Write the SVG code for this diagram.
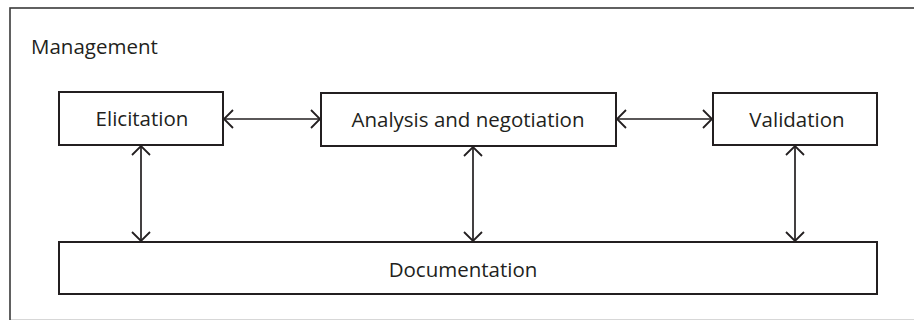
<svg xmlns="http://www.w3.org/2000/svg" width="914" height="320" viewBox="0 0 914 320">
  <style>
    .box { fill: #ffffff; stroke: #231f20; stroke-width: 2; }
    .frame { fill: #ffffff; stroke: #3a3a3a; stroke-width: 1.6; }
    .label { font-family: "Open Sans", "Noto Sans", "DejaVu Sans", sans-serif; font-size: 20.5px; fill: #231f20; }
    .mid { text-anchor: middle; }
    .link { fill: none; stroke: #231f20; stroke-width: 1.7; marker-start: url(#head); marker-end: url(#head); }
  </style>
  <defs>
    <marker id="head" viewBox="-11 -11 13 22" markerWidth="13" markerHeight="22" refX="0" refY="0" markerUnits="userSpaceOnUse" orient="auto-start-reverse">
      <path d="M -9 -9 L 0 0 L -9 9" fill="none" stroke="#231f20" stroke-width="1.8"/>
    </marker>
  </defs>

  <!-- outer management frame (runs past the right and bottom edges) -->
  <g id="management">
    <rect class="frame" x="10" y="8" width="920" height="312.6"/>
    <text class="label" x="31" y="54">Management</text>
  </g>

  <!-- connectors -->
  <g id="connectors">
    <line class="link" x1="224" y1="119" x2="320" y2="119"/>
    <line class="link" x1="617" y1="119" x2="712" y2="119"/>
    <line class="link" x1="141" y1="146" x2="141" y2="241"/>
    <line class="link" x1="473" y1="147" x2="473" y2="241"/>
    <line class="link" x1="795" y1="146" x2="795" y2="241"/>
  </g>

  <g id="elicitation">
    <rect class="box" x="59" y="92" width="164" height="53"/>
    <text class="label mid" x="142" y="126">Elicitation</text>
  </g>

  <g id="analysis">
    <rect class="box" x="321" y="93" width="295" height="53"/>
    <text class="label mid" x="468" y="127">Analysis and negotiation</text>
  </g>

  <g id="validation">
    <rect class="box" x="713" y="93" width="164" height="52"/>
    <text class="label mid" x="797" y="127">Validation</text>
  </g>

  <g id="documentation">
    <rect class="box" x="59" y="242" width="818" height="52"/>
    <text class="label mid" x="463" y="277">Documentation</text>
  </g>
</svg>
